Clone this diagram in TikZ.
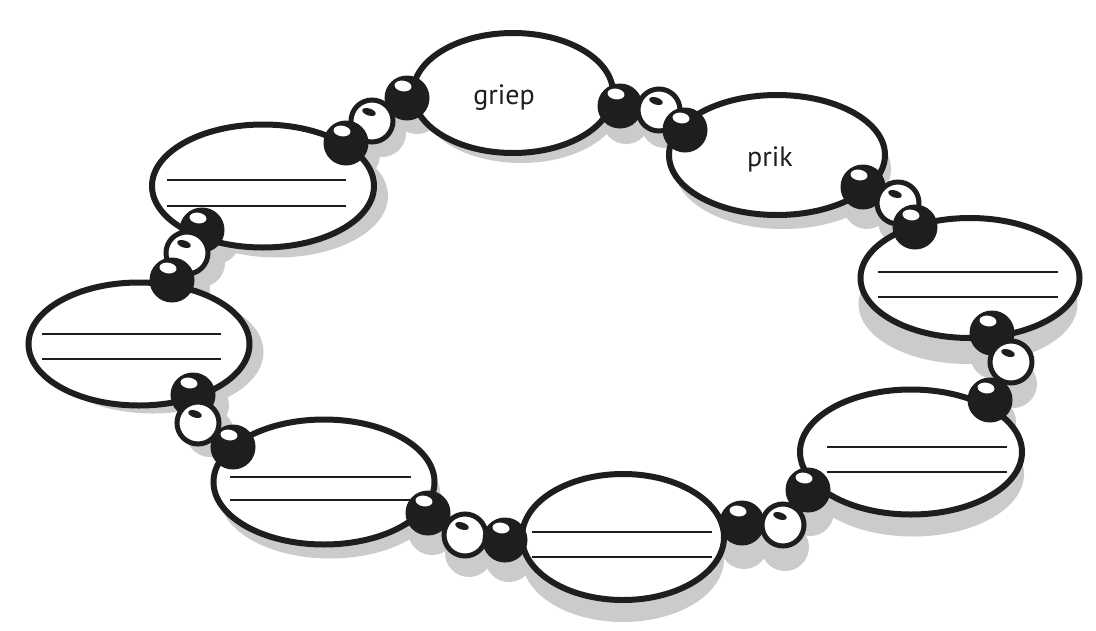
\documentclass[tikz,border=0pt]{standalone}
\usepackage{fontspec}
\setmainfont{PT Sans}
\usetikzlibrary{shapes.geometric}
\definecolor{inkc}{HTML}{1E1E1E}
\definecolor{shadc}{HTML}{CBCBCB}
\tikzset{
  ell/.style={ellipse, draw=inkc, line width=6pt, fill=white, inner sep=0pt},
  shad/.style={ellipse, fill=shadc, draw=none, inner sep=0pt},
  shadbead/.style={circle, fill=shadc, draw=none, inner sep=0pt, minimum size=48pt},
  blackbead/.style={circle, fill=inkc, draw=inkc, line width=1pt, minimum size=44pt, inner sep=0pt},
  whitebead/.style={circle, fill=white, draw=inkc, line width=5pt, minimum size=42pt, inner sep=0pt},
  wline/.style={draw=inkc, line width=1.7pt},
  shine/.style={fill=white},
  dash mark/.style={fill=inkc},
  label text/.style={font=\fontsize{28}{32}\selectfont, inner sep=0pt, anchor=base, text=inkc},
}
\newcommand\beadB[3]{%
  \node[blackbead] (#1) at (#2,#3) {};
  \fill[shine, rotate around={-8:(#2-4,#3-12)}] (#2-4,#3-12) ellipse [x radius=8.5pt, y radius=5.3pt];}
\newcommand\beadW[3]{%
  \node[whitebead] (#1) at (#2,#3) {};
  \fill[dash mark, rotate around={-18:(#2-3,#3-9)}] (#2-3,#3-9) ellipse [x radius=7pt, y radius=3.5pt];}
\begin{document}
\begin{tikzpicture}[x=1pt,y=-1pt]
\useasboundingbox (0,0) rectangle (1096,630);
\fill[white] (0,0) rectangle (1096,630);
% ---- shadows of the ellipses
\foreach \x/\y/\w/\h/\dx/\dy in {
  513/93/200/120/8/10, 777/155/216/120/6/14, 970/278/219/120/-2/26,
  911/452/222/125/2/22, 623/537/202/126/0/22, 324/482/221/125/6/14,
  139/344/221/123/14/8, 263/186/222/123/14/10}
  \node[shad, minimum width=\w pt, minimum height=\h pt] at (\x+\dx,\y+\dy) {};
% ---- shadows of the beads
\foreach \x/\y/\dx/\dy in {
  407/98/10/12, 372/121/10/12, 346/143/10/12,
  620/106/6/14, 659/110/6/14, 685/130/6/14,
  863/187/4/18, 898/203/4/18, 915/227/4/18,
  992/333/2/22, 1011/362/2/22, 990/400/2/22,
  808/490/2/22, 783/525/2/22, 742/523/2/22,
  505/540/4/18, 465/535/4/18, 428/513/4/18,
  233/447/12/10, 198/423/12/10, 193/395/12/10,
  172/280/14/10, 187/253/14/10, 202/230/14/10}
  \node[shadbead] at (\x+\dx,\y+\dy) {};
% ---- the ellipses
\node[ell, minimum width=200pt, minimum height=120pt] (e1) at (513,93) {};
\node[ell, minimum width=216pt, minimum height=120pt] (e2) at (777,155) {};
\node[ell, minimum width=219pt, minimum height=120pt] (e3) at (970,278) {};
\node[ell, minimum width=222pt, minimum height=125pt] (e4) at (911,452) {};
\node[ell, minimum width=202pt, minimum height=126pt] (e5) at (623,537) {};
\node[ell, minimum width=221pt, minimum height=125pt] (e6) at (324,482) {};
\node[ell, minimum width=221pt, minimum height=123pt] (e7) at (139,344) {};
\node[ell, minimum width=222pt, minimum height=123pt] (e8) at (263,186) {};
\node[label text] (t1) at (504,104) {griep};
\node[label text] (t2) at (770,166) {prik};
% ---- writing lines
\foreach \a/\b/\y/\yy in {878/1058/272/297, 827/1007/447/472, 532/712/532/557,
  230/411/477/500, 42/221/334/359, 167/346/180/206}{
  \draw[wline] (\a,\y) -- (\b,\y);
  \draw[wline] (\a,\yy) -- (\b,\yy);
}
% ---- beads, drawn from top to bottom so that lower beads lie in front
\foreach \n/\x/\y/\t in {
  b1/407/98/B, b3/620/106/B, w2/659/110/W, w1/372/121/W, b4/685/130/B,
  b2/346/143/B, b5/863/187/B, w3/898/203/W, b6/915/227/B, b16/202/230/B,
  w8/187/253/W, b15/172/280/B, b7/992/333/B, w4/1011/362/W, b14/193/395/B,
  b8/990/400/B, w7/198/423/W, b13/233/447/B, b9/808/490/B, b12/428/513/B,
  b10/742/523/B, w5/783/525/W, w6/465/535/W, b11/505/540/B}
  {\csname bead\t\endcsname{\n}{\x}{\y}}
\end{tikzpicture}
\end{document}
